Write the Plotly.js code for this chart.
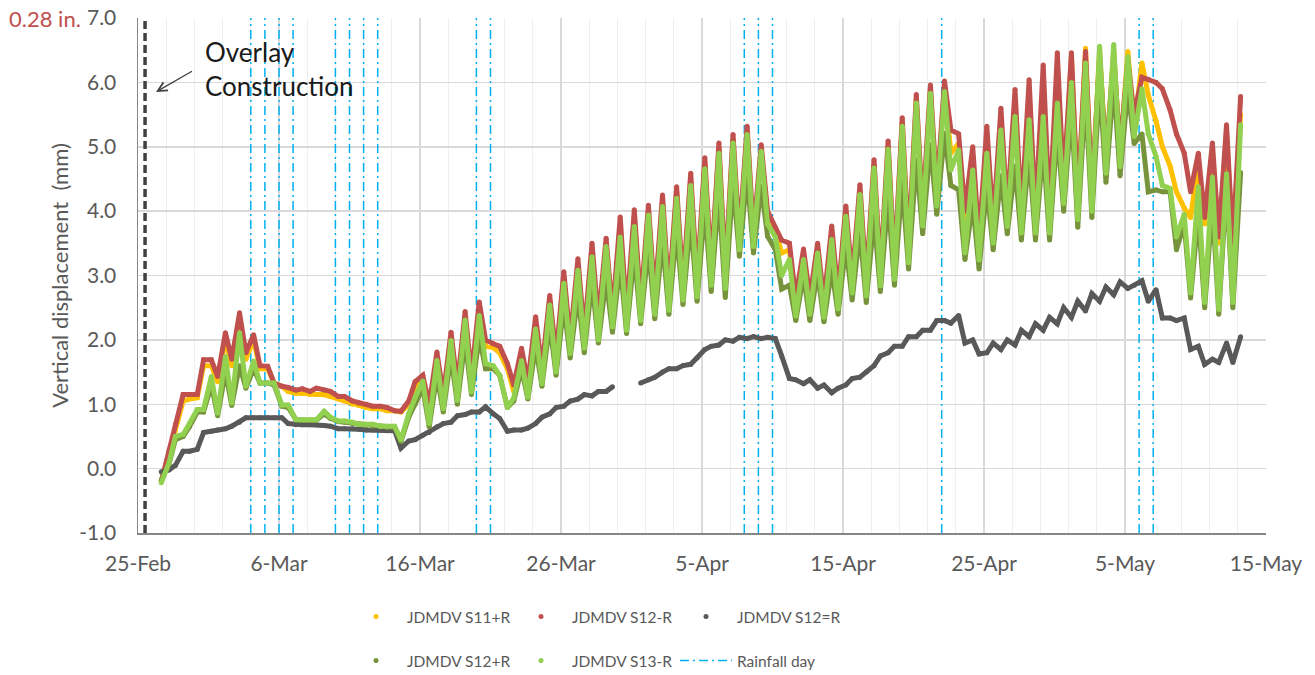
<!DOCTYPE html>
<html><head><meta charset="utf-8">
<script src="https://cdn.plot.ly/plotly-3.0.1.min.js"></script>
<style>html,body{margin:0;padding:0;background:#fff;}#chart{width:1315px;height:675px;}</style>
</head><body><div id="chart"></div>
<script>
// Calendar days with readings (Feb 26 to May 13)
const dates = ['2020-02-26','2020-02-27','2020-02-28','2020-02-29',
'2020-03-01','2020-03-02','2020-03-03','2020-03-04','2020-03-05','2020-03-06','2020-03-07','2020-03-08','2020-03-09','2020-03-10',
'2020-03-11','2020-03-12','2020-03-13','2020-03-14','2020-03-15','2020-03-16','2020-03-17','2020-03-18','2020-03-19','2020-03-20',
'2020-03-21','2020-03-22','2020-03-23','2020-03-24','2020-03-25','2020-03-26','2020-03-27','2020-03-28','2020-03-29','2020-03-30','2020-03-31',
'2020-04-01','2020-04-02','2020-04-03','2020-04-04','2020-04-05','2020-04-06','2020-04-07','2020-04-08','2020-04-09','2020-04-10',
'2020-04-11','2020-04-12','2020-04-13','2020-04-14','2020-04-15','2020-04-16','2020-04-17','2020-04-18','2020-04-19','2020-04-20',
'2020-04-21','2020-04-22','2020-04-23','2020-04-24','2020-04-25','2020-04-26','2020-04-27','2020-04-28','2020-04-29','2020-04-30',
'2020-05-01','2020-05-02','2020-05-03','2020-05-04','2020-05-05','2020-05-06','2020-05-07','2020-05-08','2020-05-09','2020-05-10',
'2020-05-11','2020-05-12','2020-05-13'];
// two readings per day: early (daily high) and afternoon (daily low)
const readTimes = ['04:48', '15:36'];

// JDMDV S11+R
const s11pR_am = [null,0.22,1.05,1.10,1.60,2.00,2.25,2.00,1.55,1.28,
1.17,1.15,1.15,1.08,1.00,0.95,0.93,0.90,1.00,1.38,
1.72,2.02,2.35,2.48,1.88,1.55,1.78,2.27,2.62,2.98,
3.18,3.40,3.50,3.75,3.90,4.00,4.15,4.30,4.50,4.75,
4.98,5.12,5.25,4.95,3.70,3.40,3.35,3.42,3.68,4.00,
4.33,4.72,5.00,5.38,5.73,5.88,5.92,5.05,4.85,5.15,
5.45,5.70,5.80,6.00,6.20,6.40,6.53,6.50,6.50,6.48,
6.30,5.40,4.70,4.05,4.75,4.95,5.20,5.50];
const s11pR_pm = [-0.20,0.62,1.08,1.60,1.35,1.60,1.70,1.55,1.33,1.20,
1.17,1.15,1.12,1.05,0.98,0.93,0.90,0.88,1.25,0.90,
1.05,1.20,1.35,1.90,1.80,1.20,1.25,1.45,1.65,1.90,
2.00,2.15,2.30,2.30,2.45,2.55,2.60,2.75,2.80,3.00,
2.95,3.50,3.55,3.90,3.35,2.50,2.50,2.45,2.60,2.85,
2.80,2.95,3.05,3.35,3.90,4.20,4.90,3.80,3.45,3.70,
3.90,3.85,3.85,3.85,4.30,4.05,4.20,4.75,4.85,5.30,
5.80,5.00,4.30,3.90,3.80,3.50,3.40,null];

// JDMDV S12-R
const s12mR_am = [null,0.27,1.15,1.15,1.69,2.11,2.42,2.08,1.59,1.28,
1.22,1.20,1.22,1.12,1.05,1.00,0.97,0.90,1.05,1.45,
1.81,2.12,2.44,2.59,1.94,1.63,1.87,2.36,2.69,3.06,
3.26,3.50,3.58,3.91,4.02,4.09,4.25,4.38,4.59,4.83,
5.06,5.19,5.32,5.03,3.75,3.50,3.41,3.50,3.77,4.08,
4.41,4.80,5.09,5.45,5.81,5.96,6.02,5.20,5.00,5.32,
5.60,5.89,6.04,6.27,6.46,6.46,6.48,6.40,6.40,6.35,
6.08,6.00,5.57,4.90,4.90,5.06,5.34,5.78];
const s12mR_pm = [-0.20,0.68,1.15,1.69,1.43,1.70,1.80,1.60,1.33,1.26,
1.24,1.25,1.20,1.12,1.02,0.97,0.95,0.89,1.35,1.00,
1.15,1.30,1.45,2.00,1.90,1.30,1.35,1.55,1.75,2.00,
2.10,2.30,2.40,2.40,2.55,2.65,2.70,2.85,2.90,3.10,
3.05,3.60,3.65,4.00,3.55,2.65,2.65,2.60,2.70,2.95,
2.90,3.05,3.15,3.45,4.00,4.30,5.26,4.00,3.55,3.80,
4.00,3.95,3.95,3.95,4.40,4.15,4.30,4.85,4.95,5.50,
6.05,5.90,5.20,4.30,3.90,3.60,3.50,null];

// JDMDV S12=R
const s12eR_am = [null,-0.02,0.27,0.30,0.58,0.62,0.72,0.79,0.79,0.79,
0.68,0.68,0.67,0.62,0.62,0.60,0.60,0.59,0.43,0.52,
0.65,0.72,0.84,0.88,0.85,0.58,0.60,0.70,0.85,0.97,
1.08,1.13,1.20,null,null,1.38,1.50,1.55,1.62,1.85,
1.92,1.98,2.02,2.02,2.02,1.40,1.32,1.25,1.18,1.30,
1.42,1.60,1.80,1.90,2.05,2.15,2.30,2.38,2.00,1.80,
1.85,1.92,2.05,2.15,2.25,2.35,2.45,2.60,2.70,2.80,
2.92,2.78,2.34,2.34,1.90,1.70,1.95,2.05];
const s12eR_pm = [-0.05,0.05,0.27,0.56,0.60,0.66,0.79,0.79,0.79,0.70,
0.68,0.68,0.66,0.62,0.61,0.60,0.59,0.32,0.45,0.56,
0.70,0.82,0.88,0.96,0.78,0.60,0.63,0.80,0.95,1.05,
1.15,1.20,1.27,null,1.33,1.42,1.55,1.60,1.72,1.90,
2.00,2.04,2.05,2.04,1.75,1.38,1.38,1.30,1.25,1.40,
1.50,1.75,1.90,2.05,2.15,2.30,2.26,1.95,1.78,1.95,
2.00,2.15,2.25,2.35,2.50,2.60,2.72,2.82,2.90,2.85,
2.60,2.34,2.30,1.85,1.62,1.65,1.65,null];

// JDMDV S12+R
const s12pR_am = [null,0.07,0.50,0.88,1.30,1.50,1.60,1.55,1.33,0.97,
0.76,0.75,0.85,0.73,0.70,0.67,0.65,0.64,0.80,1.25,
1.45,1.75,2.00,2.05,1.55,0.95,1.55,1.90,2.25,2.55,
2.70,2.90,2.95,3.19,3.34,3.45,3.55,3.70,3.86,4.07,
4.27,4.45,4.57,4.39,3.40,2.85,3.00,3.05,3.10,3.46,
3.70,3.92,4.20,4.44,4.80,5.03,5.21,4.33,4.12,4.38,
4.55,4.70,4.90,5.00,5.26,5.58,5.83,6.00,6.00,5.90,
5.20,4.33,4.30,3.80,3.95,4.10,4.40,4.60];
const s12pR_pm = [-0.18,0.45,0.65,0.88,0.82,0.98,1.25,1.33,1.30,0.95,
0.75,0.75,0.78,0.72,0.68,0.66,0.64,0.42,1.00,0.65,
0.88,1.00,1.15,1.55,1.45,1.05,1.08,1.28,1.45,1.72,
1.80,1.95,2.12,2.10,2.25,2.33,2.40,2.55,2.60,2.75,
2.66,3.30,3.35,3.61,2.79,2.30,2.30,2.28,2.40,2.62,
2.58,2.75,2.85,3.10,3.65,3.95,4.40,3.25,3.10,3.40,
3.65,3.55,3.55,3.55,4.00,3.75,3.90,4.45,4.55,5.05,
4.30,4.30,3.40,2.65,2.50,2.40,2.50,null];

// JDMDV S13-R
const s13mR_am = [null,0.09,0.53,0.92,1.43,1.74,2.11,1.67,1.33,0.99,
0.76,0.76,0.89,0.74,0.72,0.69,0.66,0.66,0.85,1.36,
1.68,1.99,2.31,2.38,1.60,0.95,1.68,2.17,2.54,2.88,
3.08,3.29,3.45,3.60,3.76,3.94,4.07,4.20,4.40,4.66,
4.90,5.06,5.19,4.93,3.60,3.25,3.25,3.35,3.56,3.92,
4.26,4.67,4.96,5.32,5.68,5.83,5.86,4.95,4.64,4.90,
5.26,5.47,5.42,5.47,5.68,6.00,6.30,6.56,6.59,6.40,
5.90,4.85,4.35,3.95,4.38,4.53,4.58,5.34];
const s13mR_pm = [-0.22,0.50,0.70,0.92,0.86,1.02,1.28,1.33,1.33,0.99,
0.76,0.76,0.80,0.74,0.69,0.69,0.66,0.45,1.10,0.70,
0.93,1.06,1.19,1.63,1.45,1.10,1.11,1.32,1.50,1.79,
1.87,2.00,2.20,2.15,2.30,2.40,2.46,2.62,2.67,2.85,
2.80,3.40,3.45,3.80,3.00,2.37,2.40,2.35,2.48,2.73,
2.68,2.84,2.94,3.20,3.77,4.08,4.64,3.35,3.24,3.50,
3.76,3.66,3.66,3.66,4.12,3.87,4.00,4.59,4.69,5.16,
5.20,4.40,3.60,2.73,2.58,2.47,2.58,null];

// Rainfall days
const rainDays = ['2020-03-04','2020-03-05','2020-03-06','2020-03-07','2020-03-10','2020-03-11','2020-03-12','2020-03-13',
'2020-03-20','2020-03-21','2020-04-08','2020-04-09','2020-04-10','2020-04-22','2020-05-06','2020-05-07'];
const overlayTime = '2020-02-25 12:00';
const yRange = [-1, 7];
const xRange = ['2020-02-25', '2020-05-15'];
const yTickVals = [-1, 0, 1, 2, 3, 4, 5, 6, 7];
const yTickText = ['-1.0', '0.0', '1.0', '2.0', '3.0', '4.0', '5.0', '6.0', '7.0'];

const FONT = 'Lato, "Open Sans", sans-serif';
const GREY = '#595959';

function build(am, pm) {
  const x = [], y = [];
  for (let i = 0; i < dates.length; i++) {
    x.push(dates[i] + ' ' + readTimes[0]); y.push(am[i]);
    x.push(dates[i] + ' ' + readTimes[1]); y.push(pm[i]);
  }
  return {x, y};
}

const series = [
  {name: 'JDMDV S11+R', am: s11pR_am, pm: s11pR_pm, color: '#FFC000', legend: 'legend', rank: 1},
  {name: 'JDMDV S12-R', am: s12mR_am, pm: s12mR_pm, color: '#C0504D', legend: 'legend', rank: 2},
  {name: 'JDMDV S12=R', am: s12eR_am, pm: s12eR_pm, color: '#595959', legend: 'legend', rank: 3},
  {name: 'JDMDV S12+R', am: s12pR_am, pm: s12pR_pm, color: '#77933C', legend: 'legend2', rank: 1},
  {name: 'JDMDV S13-R', am: s13mR_am, pm: s13mR_pm, color: '#92D050', legend: 'legend2', rank: 2}
];

const traces = [];
// rainfall lines
const rx = [], ry = [];
rainDays.forEach(d => { rx.push(d, d, null); ry.push(yRange[0], yRange[1], null); });
traces.push({x: rx, y: ry, mode: 'lines', name: 'Rainfall day', legend: 'legend2', legendrank: 3,
  line: {color: '#00B0F0', width: 1.5, dash: '9px,4px,2px,4px'}, hoverinfo: 'skip'});
// overlay construction line
traces.push({x: [overlayTime, overlayTime], y: yRange, mode: 'lines', showlegend: false,
  line: {color: '#404040', width: 3.5, dash: '8px,4px'}, hoverinfo: 'skip'});

series.forEach(s => {
  const d = build(s.am, s.pm);
  traces.push({x: d.x, y: d.y, mode: 'lines', showlegend: false, hoverinfo: 'skip',
    line: {color: s.color, width: 5}});
  traces.push({x: d.x, y: d.y, mode: 'markers', name: s.name, legend: s.legend, legendrank: s.rank,
    marker: {color: s.color, size: 5}});
});

const legendCommon = {
  orientation: 'h', xref: 'container', yref: 'container', xanchor: 'left', yanchor: 'middle',
  itemwidth: 52, entrywidth: 98, entrywidthmode: 'pixels',
  font: {family: FONT, size: 15.5, color: GREY}, bgcolor: 'rgba(0,0,0,0)', borderwidth: 0
};

const layout = {
  width: 1315, height: 675,
  margin: {l: 138, r: 49, t: 18, b: 142},
  paper_bgcolor: '#fff', plot_bgcolor: '#fff',
  font: {family: FONT, color: GREY, size: 20},
  showlegend: true,
  legend: Object.assign({}, legendCommon, {x: 345/1315, y: 1 - 617/675}),
  legend2: Object.assign({}, legendCommon, {x: 345/1315, y: 1 - 661/675}),
  xaxis: {
    type: 'date', range: xRange, tick0: '2020-02-25', dtick: 864000000, tickformat: '%-d-%b',
    showgrid: true, gridcolor: '#d9d9d9', gridwidth: 1.5,
    minor: {tick0: '2020-02-25', dtick: 172800000, showgrid: true, gridcolor: '#efefef', gridwidth: 1},
    showline: true, linecolor: '#868686', linewidth: 1.5, ticks: '', zeroline: false,
    tickfont: {family: FONT, size: 21, color: GREY}, ticklabelstandoff: 11
  },
  yaxis: {
    range: yRange, tickmode: 'array', tickvals: yTickVals, ticktext: yTickText,
    showgrid: true, gridcolor: '#d9d9d9', gridwidth: 1.5, zeroline: false,
    showline: true, linecolor: '#868686', linewidth: 1.5, ticks: '',
    tickfont: {family: FONT, size: 21, color: GREY}, ticklabelstandoff: 16,
    title: {text: 'Vertical displacement\u00a0 (mm)', font: {family: FONT, size: 22, color: GREY}, standoff: 4}
  },
  annotations: [
    {text: '0.28 in.', xref: 'paper', yref: 'paper', x: (7-138)/1128, y: 1, xanchor: 'left', yanchor: 'middle',
     showarrow: false, font: {family: FONT, size: 22, color: '#C0504D'}},
    {text: 'Overlay<br>Construction', xref: 'paper', yref: 'paper', x: (203-138)/1128, y: (533-34)/515,
     xanchor: 'left', yanchor: 'top', align: 'left', showarrow: false,
     font: {family: FONT, size: 26, color: '#1a1a1a'}},
    {text: ' ', xref: 'paper', yref: 'paper', x: (156-138)/1128, y: (533-92)/515,
     showarrow: true, arrowhead: 5, arrowsize: 1.4, arrowwidth: 1.3, arrowcolor: '#404040', ax: 40, ay: -23}
  ]
};

Plotly.newPlot('chart', traces, layout, {staticPlot: true, displayModeBar: false});
</script>
</body></html>
